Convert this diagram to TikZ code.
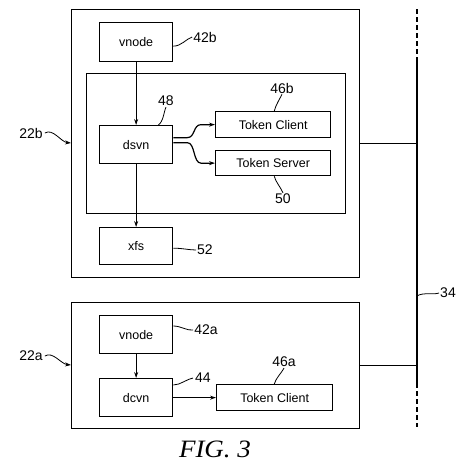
\documentclass[tikz,border=0pt]{standalone}
\usepackage{fontspec}
\setmainfont{Liberation Sans}
\newfontfamily\figfont{Liberation Serif}
\usetikzlibrary{arrows.meta}
\begin{document}
\begin{tikzpicture}[x=1pt,y=-1pt,
  box/.style={draw, line width=1.3pt, inner sep=0pt, anchor=north west, font=\fontsize{12.5}{14}\selectfont},
  frame/.style={draw, line width=1.3pt, inner sep=0pt, anchor=north west},
  lbl/.style={inner sep=0pt, font=\fontsize{14}{16}\selectfont},
  conn/.style={line width=1.2pt, -{Stealth[length=6pt,width=4pt]}},
  sq/.style={line width=0.8pt},
  sqa/.style={line width=0.8pt, -{Stealth[length=6pt,width=4pt]}},
  bus/.style={line width=2.6pt},
  busd/.style={line width=2.6pt, dash pattern=on 5pt off 3pt},
  wire/.style={line width=1pt}]
\useasboundingbox (0,0) rectangle (462,464);
% outer boxes
\node[frame, minimum width=288pt, minimum height=268pt] (outerb) at (71,9) {};
\node[frame, minimum width=288pt, minimum height=126pt] (outera) at (71,302) {};
\node[frame, minimum width=259pt, minimum height=140pt] (inner) at (86,73) {};
% boxes top
\node[box, minimum width=73pt, minimum height=39pt] (vnodeb) at (99,22) {vnode};
\node[box, minimum width=73pt, minimum height=38pt] (dsvn) at (99,125) {dsvn};
\node[box, minimum width=115pt, minimum height=26pt] (tcb) at (215,111) {Token Client};
\node[box, minimum width=115pt, minimum height=25pt] (ts) at (215,150) {Token Server};
\node[box, minimum width=73pt, minimum height=37pt] (xfs) at (99,227) {xfs};
% boxes bottom
\node[box, minimum width=73pt, minimum height=38pt] (vnodea) at (99,315) {vnode};
\node[box, minimum width=73pt, minimum height=38pt] (dcvn) at (99,378) {dcvn};
\node[box, minimum width=116pt, minimum height=26pt] (tca) at (216,384) {Token Client};
% bus
\coordinate (bustop) at (417,9);
\coordinate (busm1) at (417,57);
\coordinate (busm2) at (417,383);
\coordinate (busbot) at (417,427);
\draw[busd] (bustop) -- (busm1);
\draw[bus] (busm1) -- (busm2);
\draw[busd] (busm2) -- (busbot);
\draw[wire] (outerb.east) -- (outerb.east -| bustop);
\draw[wire] (outera.east) -- (outera.east -| bustop);
% connectors
\draw[conn] (vnodeb.south) -- (dsvn.north);
\draw[conn] (dsvn.south) -- (xfs.north);
\draw[conn] (vnodea.south) -- (dcvn.north);
\draw[conn] (dcvn.east |- tca.west) -- (tca.west);
\draw[conn] ([yshift=7pt]dsvn.east) -- ++(14,0) .. controls +(8,0) and +(-8,0) .. ([xshift=-14pt]tcb.west) -- (tcb.west);
\draw[conn] ([yshift=2pt]dsvn.east) -- ++(14,0) .. controls +(8,0) and +(-8,0) .. ([xshift=-14pt]ts.west) -- (ts.west);
% labels
\node[lbl] (l42b) at (205,37) {42b};
\node[lbl] (l48) at (166,101) {48};
\node[lbl] (l46b) at (282,88) {46b};
\node[lbl] (l50) at (283,199) {50};
\node[lbl] (l52) at (205,250) {52};
\node[lbl] (l42a) at (206,330) {42a};
\node[lbl] (l44) at (203,378) {44};
\node[lbl] (l46a) at (284,362) {46a};
\node[lbl] (l34) at (448,293) {34};
\node[lbl] (l22b) at (31,133) {22b};
\node[lbl] (l22a) at (31,356) {22a};
\node[inner sep=0pt, font=\figfont\itshape\fontsize{25}{28}\selectfont, xscale=1.08] (fig) at (215,449) {FIG. 3};
% leader squiggles
\draw[sq] ([yshift=-4pt]vnodeb.east) .. controls +(8,0) and +(-6,2) .. ([xshift=-1pt]l42b.west);
\draw[sq] ([xshift=-15pt]dsvn.north east) .. controls +(5,-3) and +(-2,4) .. ([yshift=-1pt]l48.south);
\draw[sq] ([xshift=-57pt]tcb.north east) .. controls +(1,-5) and +(-2,4) .. ([yshift=-1pt]l46b.south);
\draw[sq] ([xshift=-57pt]ts.south east) .. controls +(1,5) and +(-2,-5) .. ([yshift=1pt]l50.north);
\draw[sq] ([yshift=-2pt]xfs.east) .. controls +(8,0) and +(-6,0) .. ([xshift=-1pt]l52.west);
\draw[sq] ([yshift=-11pt]vnodea.north east) .. controls +(8,0) and +(-6,1) .. ([xshift=-1pt]l42a.west);
\draw[sq] ([yshift=-7pt]dcvn.north east) .. controls +(7,0) and +(-6,1) .. ([xshift=-2pt]l44.west);
\draw[sq] ([xshift=-59pt]tca.north east) .. controls +(1,-5) and +(-2,4) .. ([yshift=-1pt]l46a.south);
\draw[sq] ([yshift=-3pt]busm2 |- l34.west) .. controls +(6,-4) and +(-5,2) .. ([xshift=-1pt]l34.west);
\coordinate (e22b) at (outerb.west |- 0,143);
\coordinate (e22a) at (outera.west |- 0,365);
\draw[sqa] ([xshift=2pt]l22b.east) .. controls +(8,-5) and +(-10,-1) .. (e22b);
\draw[sqa] ([xshift=2pt]l22a.east) .. controls +(8,-5) and +(-10,-1) .. (e22a);
\end{tikzpicture}
\end{document}
